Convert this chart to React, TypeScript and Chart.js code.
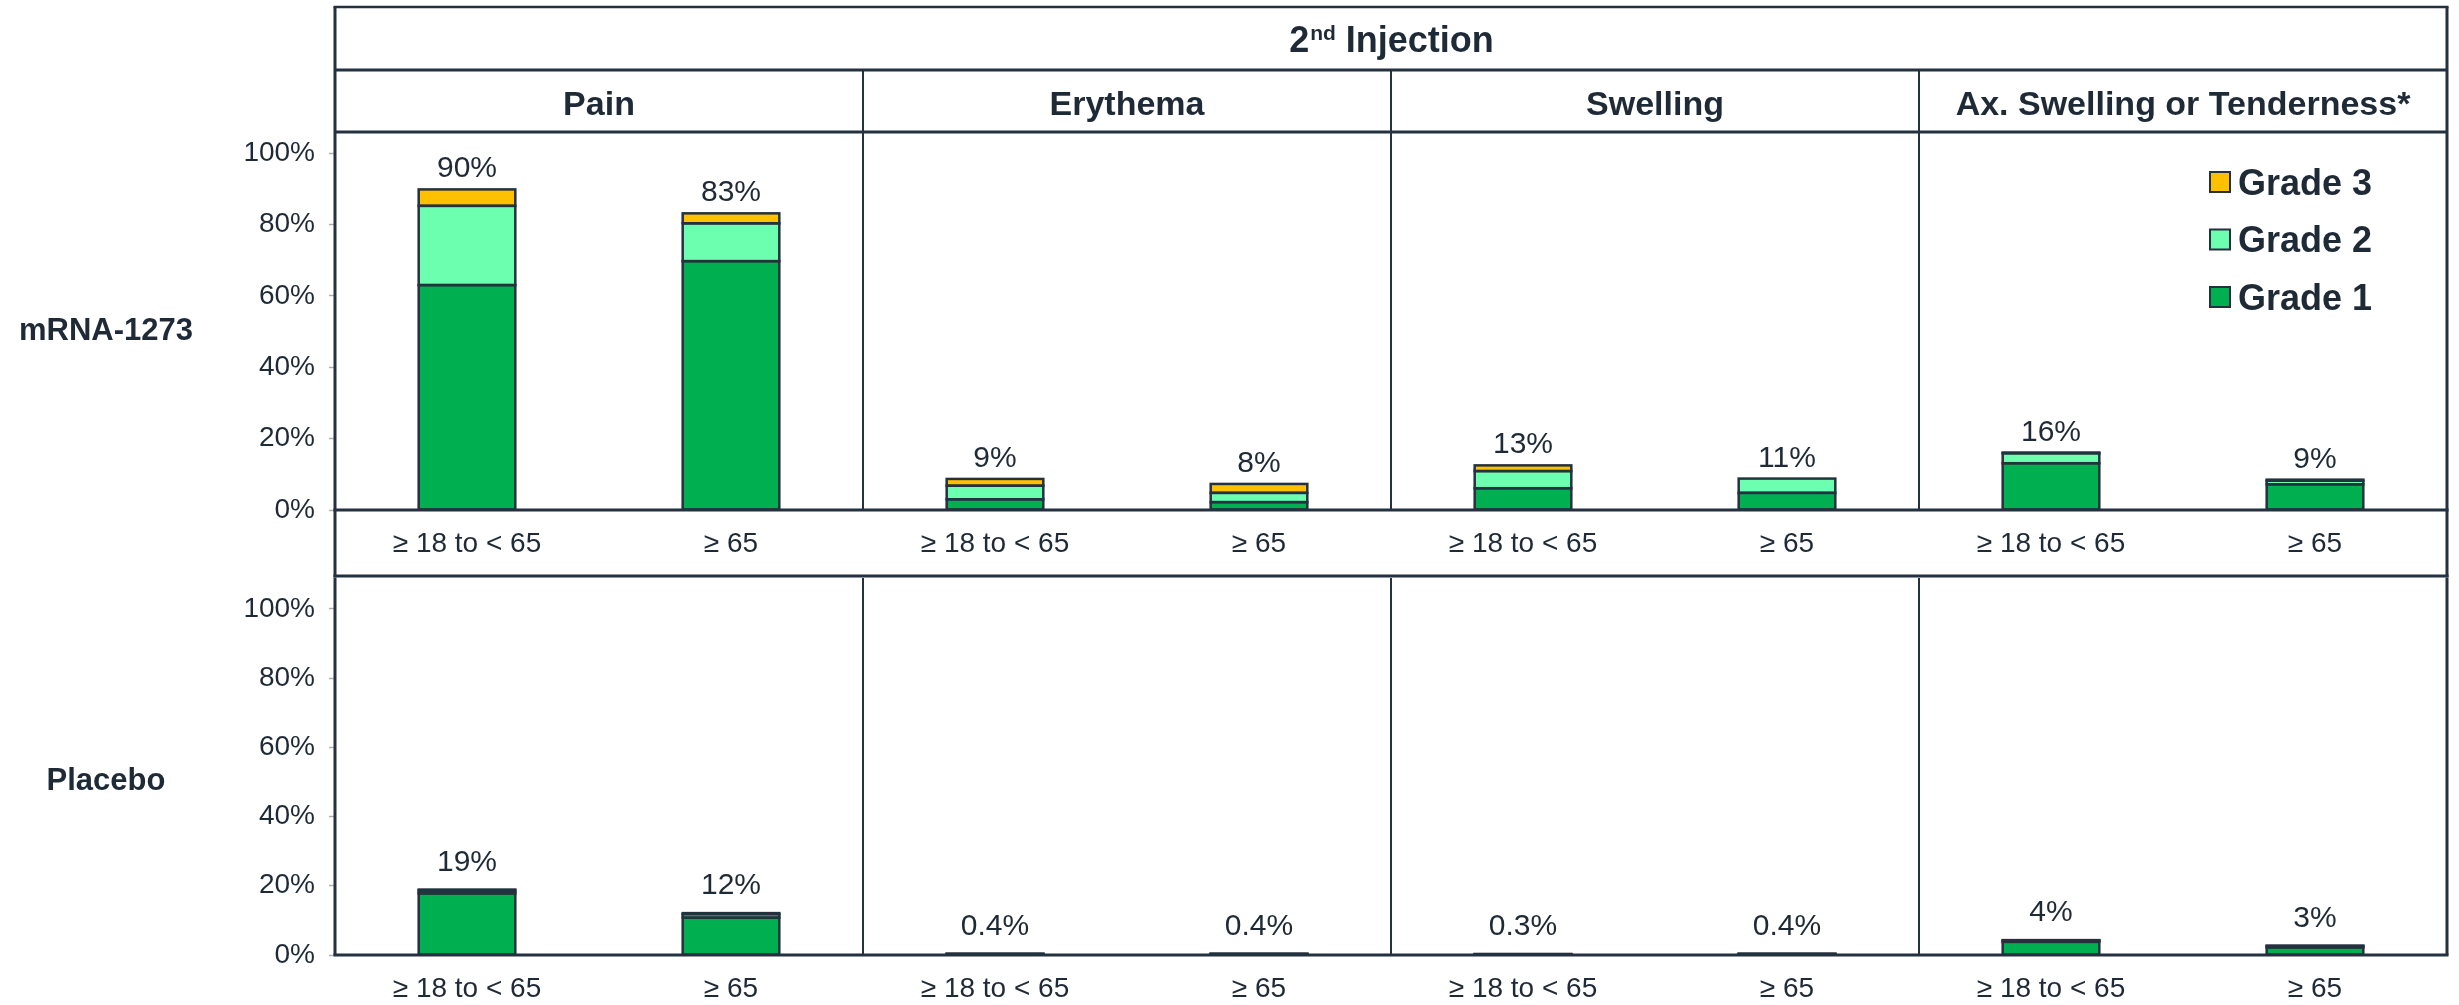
import React, { useEffect, useRef } from 'react';
import { Chart, registerables } from 'chart.js';

Chart.register(...registerables);

// ---------- data ----------
const headerMain = '2';
const headerSup = 'nd';
const headerRest = ' Injection';
const reactions = ['Pain', 'Erythema', 'Swelling', 'Ax. Swelling or Tenderness*'];
const ageGroups = ['≥ 18 to < 65', '≥ 65'];
const categories = reactions.flatMap(() => ageGroups);
const gradeNames = ['Grade 1', 'Grade 2', 'Grade 3'];
const gradeColors = ['#00B050', '#6CFFB0', '#FFC000'];
const rowNames = ['mRNA-1273', 'Placebo'];

const mrnaGrade1 = [63.0, 69.7, 3.0, 2.2, 6.1, 4.8, 13.1, 7.2];
const mrnaGrade2 = [22.2, 10.6, 3.8, 2.6, 4.8, 4.0, 2.8, 1.0];
const mrnaGrade3 = [4.6, 2.8, 1.9, 2.5, 1.6, 0.0, 0.2, 0.3];
const mrnaTotals = ['90%', '83%', '9%', '8%', '13%', '11%', '16%', '9%'];

const placeboGrade1 = [17.8, 10.8, 0.2, 0.2, 0.1, 0.2, 3.8, 2.2];
const placeboGrade2 = [0.8, 1.0, 0.1, 0.1, 0.1, 0.1, 0.4, 0.4];
const placeboGrade3 = [0.3, 0.3, 0.1, 0.1, 0.1, 0.1, 0.1, 0.1];
const placeboTotals = ['19%', '12%', '0.4%', '0.4%', '0.3%', '0.4%', '4%', '3%'];

// ---------- style ----------
const TEXT = '#1f2a37';
const LINE = '#24313f';
const FONT = "'Liberation Sans', Arial, Helvetica, sans-serif";
const W = 2459;

Chart.defaults.font.family = FONT;
Chart.defaults.color = TEXT;

function buildDatasets(g1: number[], g2: number[], g3: number[]) {
  return [g1, g2, g3].map((data, k) => ({
    label: gradeNames[k],
    data,
    backgroundColor: gradeColors[k],
    borderWidth: 0,
    categoryPercentage: 1,
    barPercentage: 0.366,
    stack: 's',
  }));
}

type RowOpts = {
  rowLabel: string;
  totals: string[];
  labelGap: number;
  header: boolean;
  legend: boolean;
  bottomY: number;
};

function line(ctx: CanvasRenderingContext2D, x1: number, y1: number, x2: number, y2: number, w: number) {
  ctx.lineWidth = w;
  ctx.beginPath();
  ctx.moveTo(x1, y1);
  ctx.lineTo(x2, y2);
  ctx.stroke();
}

function overlayPlugin(o: RowOpts) {
  return {
    id: 'overlay',
    afterDatasetsDraw(chart: any) {
      const ctx: CanvasRenderingContext2D = chart.ctx;
      const a = chart.chartArea;
      const xs = chart.scales.x;
      const n = chart.data.labels.length;
      const groups = n / 2;
      ctx.save();
      ctx.strokeStyle = LINE;
      ctx.lineCap = 'butt';

      // bar outlines (stroke centred on each segment edge)
      ctx.lineWidth = 2.5;
      chart.data.datasets.forEach((d: any, di: number) => {
        const meta = chart.getDatasetMeta(di);
        meta.data.forEach((el: any, i: number) => {
          if (!d.data[i]) return;
          const p = el.getProps(['x', 'y', 'base', 'width'], true);
          ctx.strokeRect(p.x - p.width / 2, Math.min(p.y, p.base), p.width, Math.abs(p.base - p.y));
        });
      });

      const top = o.header ? 7 : 0;
      // outer verticals
      const sideBottom = o.header ? o.bottomY + 1.5 : a.bottom;
      line(ctx, a.left, top, a.left, sideBottom, 3);
      line(ctx, a.right, top, a.right, sideBottom, 3);
      // group dividers
      const divTop = o.header ? 70 : 0;
      for (let g = 1; g < groups; g++) {
        const px = xs.getPixelForValue(g * 2 - 0.5);
        line(ctx, px, divTop, px, a.bottom, 2);
      }
      // horizontals
      if (o.header) {
        line(ctx, a.left - 1.5, 7, a.right + 1.5, 7, 2.5);
        line(ctx, a.left, 70, a.right, 70, 3);
        line(ctx, a.left, 132, a.right, 132, 3);
        line(ctx, a.left - 1.5, o.bottomY, a.right + 1.5, o.bottomY, 3);
      }
      line(ctx, a.left - 1.5, a.bottom, a.right + 1.5, a.bottom, 3);

      ctx.fillStyle = TEXT;
      // header texts
      if (o.header) {
        ctx.textBaseline = 'alphabetic';
        ctx.textAlign = 'left';
        const big = `bold 36px ${FONT}`;
        const small = `bold 21px ${FONT}`;
        ctx.font = big;
        const w1 = ctx.measureText(headerMain).width;
        const w3 = ctx.measureText(headerRest).width;
        ctx.font = small;
        const w2 = ctx.measureText(headerSup).width;
        const cx = (a.left + a.right) / 2;
        const sx = cx - (w1 + w2 + w3) / 2;
        ctx.font = big;
        ctx.fillText(headerMain, sx, 52);
        ctx.font = small;
        ctx.fillText(headerSup, sx + w1 + 1, 40);
        ctx.font = big;
        ctx.fillText(headerRest, sx + w1 + w2 + 1, 52);

        ctx.textAlign = 'center';
        ctx.font = `bold 34px ${FONT}`;
        reactions.forEach((r, g) => {
          ctx.fillText(r, xs.getPixelForValue(g * 2 + 0.5), 115);
        });
      }

      // value labels
      ctx.textAlign = 'center';
      ctx.textBaseline = 'alphabetic';
      ctx.font = `30px ${FONT}`;
      for (let i = 0; i < n; i++) {
        let topY = Infinity;
        let cx = 0;
        chart.data.datasets.forEach((_d: any, di: number) => {
          const el = chart.getDatasetMeta(di).data[i];
          if (el) {
            topY = Math.min(topY, el.y);
            cx = el.x;
          }
        });
        ctx.fillText(o.totals[i], cx, topY - o.labelGap);
      }

      // row label
      ctx.font = `bold 31px ${FONT}`;
      ctx.textAlign = 'center';
      ctx.fillText(o.rowLabel, 106, (a.top + a.bottom) / 2 + 0.358 * 31 - 3);

      // legend
      if (o.legend) {
        const ds = chart.data.datasets;
        const bx = a.right - 237;
        ctx.textAlign = 'left';
        ctx.font = `bold 36px ${FONT}`;
        for (let k = ds.length - 1, row = 0; k >= 0; k--, row++) {
          const cy = 182 + row * 57.5;
          ctx.fillStyle = ds[k].backgroundColor;
          ctx.fillRect(bx, cy - 10, 20, 20);
          ctx.lineWidth = 2;
          ctx.strokeStyle = LINE;
          ctx.strokeRect(bx, cy - 10, 20, 20);
          ctx.fillStyle = TEXT;
          ctx.fillText(ds[k].label, bx + 28, cy + 0.358 * 36);
        }
      }
      ctx.restore();
    },
  };
}

function makeChart(
  canvas: HTMLCanvasElement,
  g1: number[], g2: number[], g3: number[],
  padTop: number, xAxisH: number, o: RowOpts
) {
  return new Chart(canvas, {
    type: 'bar',
    data: { labels: categories, datasets: buildDatasets(g1, g2, g3) as any },
    options: {
      responsive: false,
      maintainAspectRatio: false,
      animation: false,
      events: [],
      layout: { padding: { top: padTop, right: 12, bottom: 0, left: 0 } },
      plugins: { legend: { display: false }, tooltip: { enabled: false } },
      scales: {
        x: {
          stacked: true,
          offset: true,
          grid: { display: false, drawTicks: false },
          border: { display: false },
          ticks: { font: { size: 28 }, color: TEXT, padding: 17, autoSkip: false, maxRotation: 0 },
          afterFit: (s: any) => { s.height = xAxisH; },
        },
        y: {
          stacked: true,
          min: 0,
          max: 100,
          ticks: { stepSize: 20, callback: (v: any) => v + '%', font: { size: 28 }, color: TEXT, padding: 14 },
          grid: { drawOnChartArea: false, drawTicks: true, tickLength: 6, tickColor: '#aab0b6', tickWidth: 1.5 },
          border: { display: false },
          afterFit: (s: any) => { s.width = 335; },
        },
      } as any,
    },
    plugins: [overlayPlugin(o)],
  });
}

const TOP_H = 578;
const BOT_H = 1005 - TOP_H;

export default function App() {
  const topRef = useRef<HTMLCanvasElement>(null);
  const botRef = useRef<HTMLCanvasElement>(null);

  useEffect(() => {
    document.body.style.margin = '0';
    document.body.style.overflow = 'hidden';
    const c1 = makeChart(topRef.current!, mrnaGrade1, mrnaGrade2, mrnaGrade3, 153, TOP_H - 510, {
      rowLabel: rowNames[0], totals: mrnaTotals, labelGap: 12, header: true, legend: true, bottomY: 576,
    });
    const c2 = makeChart(botRef.current!, placeboGrade1, placeboGrade2, placeboGrade3, 596 - TOP_H, 1005 - 955, {
      rowLabel: rowNames[1], totals: placeboTotals, labelGap: 19, header: false, legend: false, bottomY: 0,
    });
    return () => { c1.destroy(); c2.destroy(); };
  }, []);

  return (
    <div style={{ position: 'relative', width: W, height: 1005, background: '#fff' }}>
      <canvas ref={topRef} width={W} height={TOP_H} style={{ position: 'absolute', left: 0, top: 0, display: 'block' }} />
      <canvas ref={botRef} width={W} height={BOT_H} style={{ position: 'absolute', left: 0, top: TOP_H, display: 'block' }} />
    </div>
  );
}
